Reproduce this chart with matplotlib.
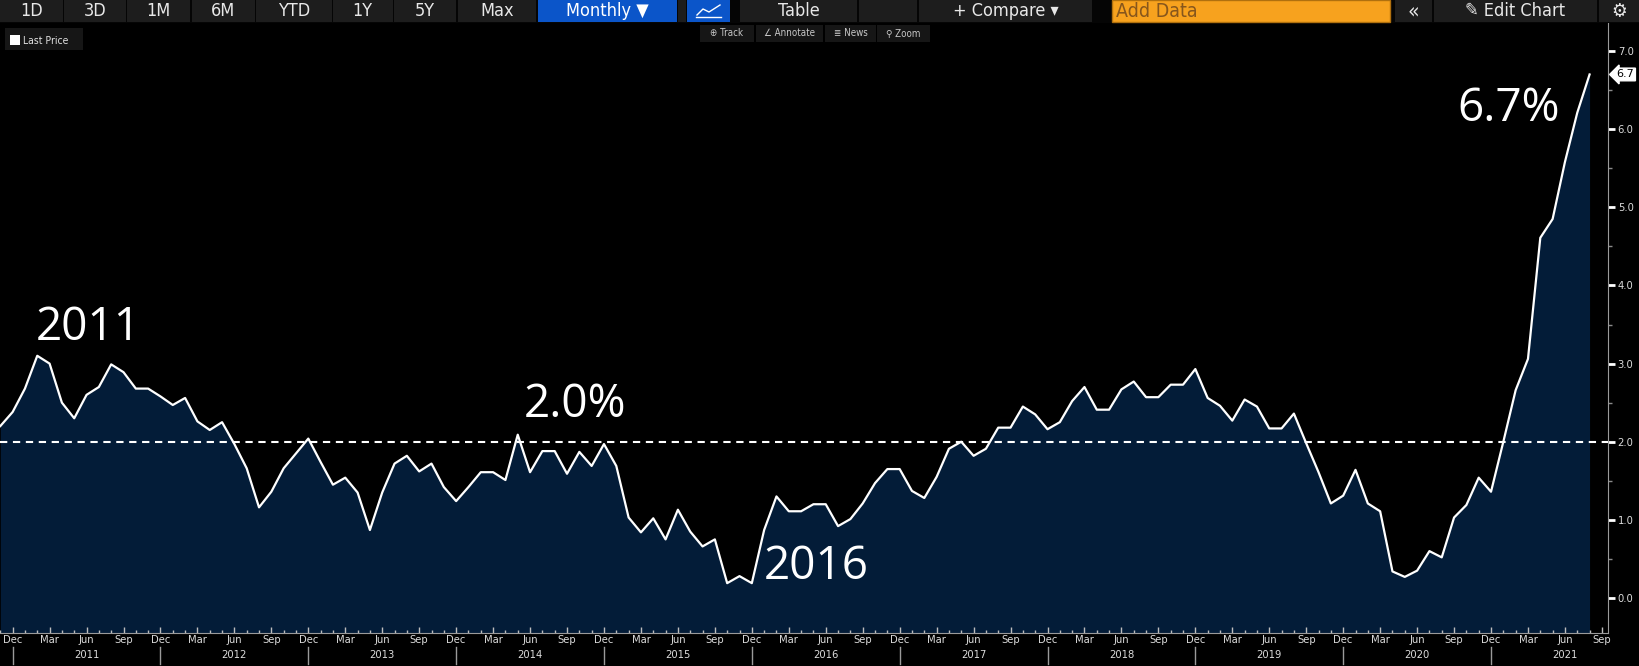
import numpy as np
import matplotlib
matplotlib.use("Agg")
from matplotlib import pyplot as plt
from matplotlib.patches import Rectangle
from matplotlib.lines import Line2D
from matplotlib.ticker import MultipleLocator, FixedLocator
import matplotlib.transforms as mtransforms

# monthly values, Nov 2010 .. Aug 2021
values = [
    2.20, 2.38, 2.68, 3.10, 3.00, 2.50, 2.30, 2.60, 2.70, 2.99,
    2.89, 2.68, 2.68, 2.58, 2.47, 2.56, 2.26, 2.15, 2.25, 1.97,
    1.66, 1.16, 1.36, 1.66, 1.85, 2.04, 1.74, 1.45, 1.54, 1.35,
    0.87, 1.35, 1.72, 1.82, 1.62, 1.72, 1.42, 1.24, 1.42, 1.61,
    1.61, 1.51, 2.09, 1.61, 1.88, 1.88, 1.59, 1.87, 1.69, 1.97,
    1.69, 1.03, 0.84, 1.02, 0.75, 1.13, 0.85, 0.66, 0.75, 0.19,
    0.28, 0.19, 0.87, 1.30, 1.11, 1.11, 1.20, 1.20, 0.92, 1.01,
    1.21, 1.47, 1.65, 1.65, 1.37, 1.28, 1.55, 1.91, 2.00, 1.82,
    1.91, 2.18, 2.18, 2.45, 2.35, 2.16, 2.25, 2.52, 2.70, 2.41,
    2.41, 2.67, 2.77, 2.57, 2.57, 2.73, 2.73, 2.93, 2.56, 2.46,
    2.27, 2.54, 2.45, 2.17, 2.17, 2.36, 1.98, 1.61, 1.21, 1.31,
    1.64, 1.21, 1.11, 0.34, 0.27, 0.35, 0.60, 0.52, 1.03, 1.19,
    1.54, 1.36, 2.00, 2.66, 3.06, 4.61, 4.85, 5.58, 6.21, 6.70,
]
start_month = 11  # Nov
start_year = 2010
target = 2.0
month_names = {12: "Dec", 3: "Mar", 6: "Jun", 9: "Sep"}
toolbar_labels = ["1D", "3D", "1M", "6M", "YTD", "1Y", "5Y", "Max"]
notes = [("2011", 7.1, 3.30), ("2.0%", 46.65, 2.32), ("2016", 66.2, 0.24)]

W, H = 1639, 666


def fx(x):
    return x / W


def fy(y):
    return 1 - y / H


fig = plt.figure(figsize=(W / 100, H / 100), dpi=100, facecolor="black")
cond = ["Liberation Sans Narrow", "DejaVu Sans"]

# ---- plot area ----
ax_top, ax_bot, ax_right = 23, 633, 1608
ax = fig.add_axes([0, fy(ax_bot), fx(ax_right), (ax_bot - ax_top) / H])
ax.set_facecolor("black")

n = len(values)
x = np.arange(n)
y0 = -(ax_bot - 598) / 78.14
y1 = (598 - ax_top) / 78.14
ax.set_ylim(y0, y1)
ax.set_xlim(-0.3 / 12.32, (ax_right - 0.3) / 12.32)

ax.fill_between(x, values, y0, color="#031c38", lw=0, zorder=1)
ax.plot(x, values, color="white", lw=1.6, zorder=3)
ax.axhline(target, color="white", lw=1.5, dashes=(3.5, 2.7), zorder=4)

for txt, tx, ty in notes:
    ax.text(tx, ty, txt, color="white", fontsize=33, family="Open Sans",
            ha="center", va="baseline", zorder=5)
ax.text(122.4, 6.10, f"{values[-1]:.1f}%", color="white", fontsize=33,
        family="Open Sans", ha="center", va="baseline", zorder=5)

# right axis
ax.yaxis.tick_right()
ax.set_yticks(np.arange(0, 8, 1.0))
ax.set_yticklabels([f"{v:.1f}" for v in np.arange(0, 8, 1.0)])
ax.yaxis.set_minor_locator(FixedLocator(np.arange(0.5, 7.5, 1.0)))
ax.tick_params(axis="y", which="major", direction="out", length=5, width=2,
               color="white", labelcolor="#dcdcdc", labelsize=8, pad=2)
ax.tick_params(axis="y", which="minor", direction="out", length=3, width=1,
               color="#8a8a8a")
for lab in ax.get_yticklabels():
    lab.set_family(cond)
    lab.set_stretch("condensed")

for side in ["left", "top"]:
    ax.spines[side].set_visible(False)
ax.spines["right"].set_color("#9a9a9a")
ax.spines["bottom"].set_color("#9a9a9a")

# last value flag
ax.annotate(f"{values[-1]:.1f}", xy=(1.0, values[-1]),
            xycoords=("axes fraction", "data"), xytext=(6, 0),
            textcoords="offset points", ha="left", va="center",
            fontsize=8, color="black", family=cond, annotation_clip=False,
            bbox=dict(boxstyle="larrow,pad=0.12", fc="white", ec="white"))

# bottom axis: months
months = [(start_month - 1 + i) % 12 + 1 for i in range(n + 1)]
years = [start_year + (start_month - 1 + i) // 12 for i in range(n + 1)]
q_idx = [i for i in range(n + 1) if months[i] in month_names]
ax.set_xticks(q_idx)
ax.set_xticklabels([month_names[months[i]] for i in q_idx])
ax.xaxis.set_minor_locator(MultipleLocator(1))
ax.tick_params(axis="x", which="major", direction="in", length=4, width=1,
               color="#bdbdbd", labelcolor="#dcdcdc", labelsize=8, pad=1.5)
ax.tick_params(axis="x", which="minor", direction="in", length=2.5, width=1,
               color="#bdbdbd")
for lab in ax.get_xticklabels():
    lab.set_family(cond)
    lab.set_stretch("condensed")

trans = mtransforms.blended_transform_factory(ax.transData, ax.transAxes)
hgt = ax_bot - ax_top
for i in range(n + 1):
    if months[i] == 6:
        ax.text(i, -(655 - ax_bot) / hgt, str(years[i]), transform=trans,
                ha="center", va="center", fontsize=8, color="#dcdcdc",
                family=cond, stretch="condensed", clip_on=False)
    if months[i] == 12 and i > 0:
        ax.add_line(Line2D([i, i], [-(647 - ax_bot) / hgt, -(664 - ax_bot) / hgt],
                           transform=trans, color="#9a9a9a", lw=1,
                           clip_on=False))

# ---- toolbar ----
def button(x0, x1, label, bg="#1d1d1d", fg="#e8e8e8", size=13, family=cond,
           tx=None, ha="center"):
    fig.patches.append(Rectangle((fx(x0), fy(22)), (x1 - x0) / W, 22 / H,
                                 transform=fig.transFigure, facecolor=bg,
                                 edgecolor="none", zorder=5))
    if label:
        fig.text(fx(tx if tx is not None else (x0 + x1) / 2), fy(11.5), label,
                 color=fg, fontsize=size, family=family, stretch="condensed",
                 ha=ha, va="center", zorder=6)


fig.patches.append(Rectangle((0, fy(23)), 1, 23 / H, transform=fig.transFigure,
                             facecolor="#050505", edgecolor="none", zorder=4))
edges = [0, 64, 127, 192, 256, 333, 394, 458, 537]
for lab, a, b in zip(toolbar_labels, edges[:-1], edges[1:]):
    button(a, b - 1.5, lab)
button(538, 677, "Monthly \u25BC", bg="#0b55c9", fg="white")
button(678, 686, "")
button(687, 730, "", bg="#0b55c9")
fig.lines.append(Line2D([fx(697), fx(703), fx(709), fx(720)],
                        [fy(15), fy(9), fy(12), fy(5)], color="white", lw=1,
                        transform=fig.transFigure, zorder=7))
fig.lines.append(Line2D([fx(696), fx(721)], [fy(17), fy(17)], color="white",
                        lw=1, transform=fig.transFigure, zorder=7))
button(740, 857, "Table")
button(859, 917, "")
button(919, 1092, "+ Compare \u25BE")
button(1112, 1390, "Add Data", bg="#f7a21e", fg="#86561c", size=14,
       tx=1116, ha="left")
fig.patches.append(Rectangle((fx(1112), fy(22)), 278 / W, 22 / H,
                             transform=fig.transFigure, facecolor="none",
                             edgecolor="#b0700e", lw=1, zorder=6))
button(1395, 1432, "\u00AB", size=15)
button(1434, 1597, "\u270E Edit Chart")
button(1599, 1639, "\u2699", size=14, family="DejaVu Sans")

# legend box
fig.patches.append(Rectangle((fx(5), fy(50)), 78 / W, 22 / H,
                             transform=fig.transFigure, facecolor="#161616",
                             edgecolor="none", zorder=5))
fig.patches.append(Rectangle((fx(10), fy(45)), 10 / W, 10 / H,
                             transform=fig.transFigure, facecolor="white",
                             edgecolor="none", zorder=6))
fig.text(fx(23), fy(40.5), "Last Price", color="#e0e0e0", fontsize=7.5,
         family=cond, stretch="condensed", ha="left", va="center", zorder=6)

# track / annotate / news / zoom
small = [(700, 754, "\u2295 Track"), (756, 823, "\u2220 Annotate"),
         (825, 876, "\u2263 News"), (877, 930, "\u26B2 Zoom")]
for a, b, lab in small:
    fig.patches.append(Rectangle((fx(a), fy(42)), (b - a) / W, 17 / H,
                                 transform=fig.transFigure, facecolor="#161616",
                                 edgecolor="none", zorder=5))
    fig.text(fx((a + b) / 2), fy(33.5), lab, color="#c8c8c8", fontsize=7,
             family=cond, stretch="condensed", ha="center", va="center",
             zorder=6)

fig.savefig("out.png", dpi=100, facecolor="black")
plt.close(fig)
